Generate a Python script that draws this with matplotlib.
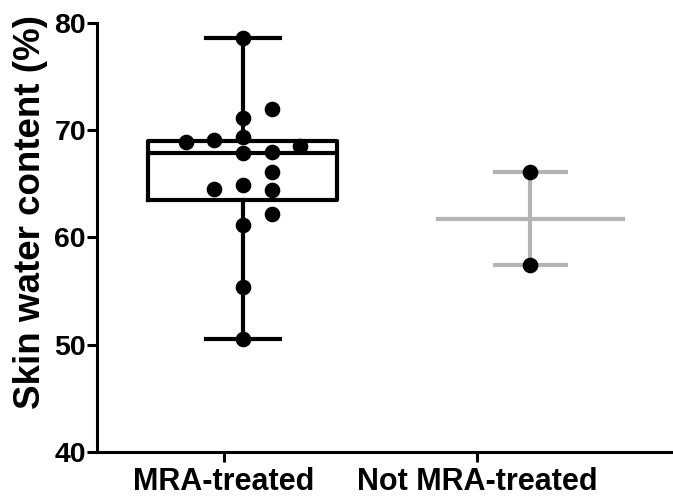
import matplotlib
matplotlib.use("Agg")
import matplotlib.pyplot as plt

# ---- data ----
categories = ["MRA-treated", "Not MRA-treated"]
mra_values = [78.6, 72.0, 71.15, 69.35, 68.9, 69.1, 68.5, 67.9, 67.95,
              66.1, 64.5, 64.9, 64.4, 62.2, 61.2, 55.35, 50.55]
mra_box = {"q1": 63.5, "med": 67.9, "q3": 69.0, "whislo": 50.55, "whishi": 78.6}
not_mra_values = [66.1, 57.4]
not_mra_mean = 61.73
yticks = [40, 50, 60, 70, 80]

# ---- layout (positions only) ----
mra_cols = [0, 1, 0, 0, -2, -1, 2, 0, 1, 1, -1, 0, 1, 1, 0, 0, 0]
col_step = 0.1134
pos_mra = 0.075
pos_not = 1.21
box_w = 0.747
cap_w = 0.296

plt.rcParams['font.family'] = ['Liberation Sans', 'DejaVu Sans']
plt.rcParams['font.weight'] = 'bold'

fig = plt.figure(figsize=(6.73, 4.98), dpi=100)
ax = fig.add_axes([97/673, 46/498, 1 - 97/673, (452-23)/498])

stats = [dict(mra_box, label="")]
ax.bxp(stats, positions=[pos_mra], widths=box_w, showfliers=False,
       capwidths=[cap_w],
       boxprops=dict(color="black", linewidth=3),
       medianprops=dict(color="black", linewidth=3),
       whiskerprops=dict(color="black", linewidth=3),
       capprops=dict(color="black", linewidth=3), manage_ticks=False)

xs = [pos_mra + c * col_step for c in mra_cols]
ax.scatter(xs, mra_values, s=105, color="black", zorder=5, clip_on=False)

gray = "#b3b3b3"
ax.hlines(not_mra_mean, pos_not - box_w/2, pos_not + box_w/2, color=gray, linewidth=3)
ax.vlines(pos_not, min(not_mra_values), max(not_mra_values), color=gray, linewidth=3)
ax.hlines([max(not_mra_values), min(not_mra_values)], pos_not - cap_w/2, pos_not + cap_w/2,
          color=gray, linewidth=3)
ax.scatter([pos_not]*len(not_mra_values), not_mra_values, s=105, color="black", zorder=5)

ax.set_xlim(-0.502, 1.775)
ax.set_ylim(40, 80)
ax.set_yticks(yticks)
ax.set_xticks([0, 1])
ax.set_xticklabels(categories, fontsize=22, fontweight='bold')
ax.tick_params(axis='y', labelsize=20.5, width=2.2, length=7, pad=1)
ax.tick_params(axis='x', width=2.2, length=7, pad=4)
for lab in ax.get_yticklabels():
    lab.set_fontweight('bold')
ax.set_ylabel("Skin water content (%)", fontsize=26.5, fontweight='bold')
ax.yaxis.set_label_coords(-0.085, 0.5606)

for s in ["top", "right"]:
    ax.spines[s].set_visible(False)
for s in ["left", "bottom"]:
    ax.spines[s].set_linewidth(2.2)

fig.savefig("out.png", dpi=100)
